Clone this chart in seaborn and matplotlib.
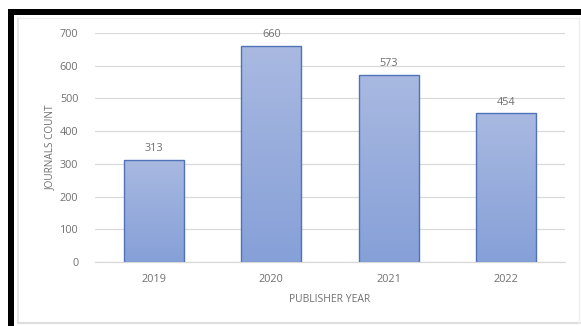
import matplotlib
matplotlib.use("Agg")
import matplotlib.pyplot as plt
import seaborn as sns
import numpy as np
import pandas as pd
from matplotlib.patches import Rectangle
from matplotlib.lines import Line2D
from matplotlib.colors import LinearSegmentedColormap

years = ["2019", "2020", "2021", "2022"]
counts = [313, 660, 573, 454]
y_ticks = [0, 100, 200, 300, 400, 500, 600, 700]
x_label = "PUBLISHER YEAR"
y_label = "JOURNALS COUNT"

sns.set_theme(style="white")
plt.rcParams['font.family'] = ['Open Sans', 'DejaVu Sans']

df = pd.DataFrame({"year": years, "count": counts})
txt = "#707070"

fig = plt.figure(figsize=(5.81, 3.26), dpi=100)
fig.patch.set_facecolor("white")
ax = fig.add_axes([95/581, 64/326, 470/581, 229/326])

sns.barplot(data=df, x="year", y="count", ax=ax, color="#9aaedc",
            width=0.51, edgecolor="#4f72b8", linewidth=1.0, saturation=1)

# gradient fill for bars
grad = np.linspace(0, 1, 256).reshape(-1, 1)
cmap = LinearSegmentedColormap.from_list("g", ["#86a0d8", "#a9b9e1"])
for p in ax.patches:
    x0, y0 = p.get_x(), p.get_y()
    w, h = p.get_width(), p.get_height()
    im = ax.imshow(grad, extent=[x0, x0 + w, y0, y0 + h], origin="lower",
                   cmap=cmap, aspect="auto", zorder=p.get_zorder() - 0.1)
    im.set_clip_path(p)
    p.set_facecolor("none")
    p.set_zorder(3)

ax.set_xlim(-0.5, 3.5)
ax.set_ylim(0, 700)
ax.set_yticks(y_ticks)
ax.yaxis.grid(True, color="#d9d9d9", linewidth=0.9)
ax.set_axisbelow(True)
for s in ["top", "right", "left"]:
    ax.spines[s].set_visible(False)
ax.spines["bottom"].set_color("#d9d9d9")
ax.spines["bottom"].set_linewidth(0.9)
ax.tick_params(axis="both", length=0, labelsize=7.8, labelcolor=txt)
ax.tick_params(axis="y", pad=12)
ax.tick_params(axis="x", pad=9)

for i, v in enumerate(counts):
    ax.text(i, v + 18, str(v), ha="center", va="bottom", fontsize=7.8, color=txt)

ax.set_xlabel(x_label, fontsize=7.5, color=txt, labelpad=6)
ax.set_ylabel(y_label, fontsize=7.2, color=txt, labelpad=3)

def fx(x):
    return x / 581
def fy(y):
    return 1 - y / 326

fig.add_artist(Line2D([fx(18), fx(18)], [fy(18), fy(323)], color="#e3e3e3", lw=1.2))
fig.add_artist(Line2D([fx(18), fx(580)], [fy(18), fy(18)], color="#eeeeee", lw=1.0))
fig.add_artist(Line2D([fx(18), fx(581)], [fy(323), fy(323)], color="#dddddd", lw=1.5))
fig.add_artist(Line2D([fx(579), fx(579)], [fy(18), fy(323)], color="#eeeeee", lw=1.0))
fig.add_artist(Rectangle((fx(8), fy(326)), fx(6), fy(9) - fy(326), color="black", lw=0))
fig.add_artist(Rectangle((fx(8), fy(15)), 1 - fx(8), fy(9) - fy(15), color="black", lw=0))

fig.savefig("out.png", dpi=100, facecolor="white")
